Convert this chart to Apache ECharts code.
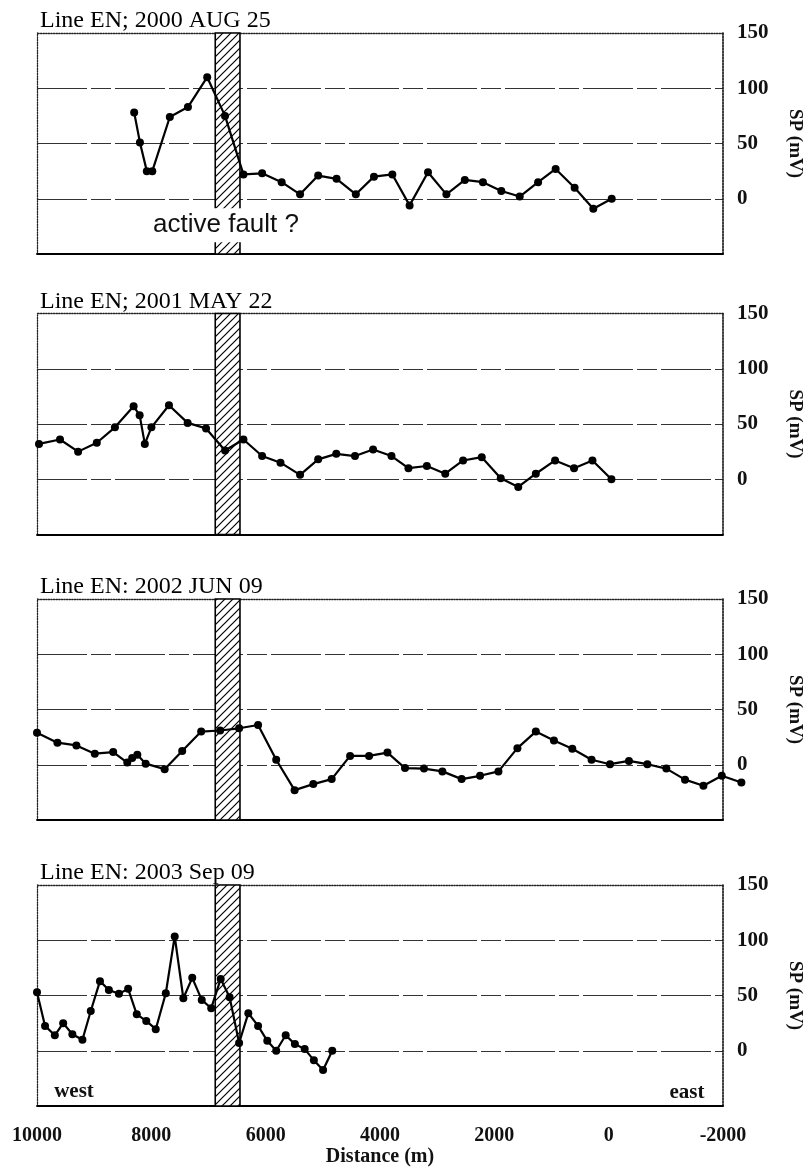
<!DOCTYPE html>
<html>
<head>
<meta charset="utf-8">
<script src="https://cdn.jsdelivr.net/npm/echarts@6/dist/echarts.min.js"></script>
<style>
html,body{margin:0;padding:0;background:#fff;}
#chart{width:812px;height:1169px;}
</style>
</head>
<body>
<div id="chart"></div>
<script>
// ---------- data ----------
const titles = ['Line EN; 2000 AUG 25', 'Line EN; 2001 MAY 22', 'Line EN: 2002 JUN 09', 'Line EN: 2003 Sep 09'];

const dist2000 = [8310, 8210, 8090, 7995, 7690, 7375, 7040, 6730, 6410, 6085, 5745, 5425, 5110, 4790, 4455, 4140, 3820, 3520, 3200, 2880, 2560, 2245, 1925, 1605, 1285, 980, 650, 325, 5];
const sp2000   = [78, 51, 25, 25, 74, 83, 110, 75, 22, 23, 15, 4, 21, 18, 4, 20, 22, -6, 24, 4, 17, 15, 7, 2, 15, 27, 10, -9, 0];

const dist2001 = [9965, 9600, 9285, 8960, 8645, 8320, 8215, 8125, 8010, 7705, 7380, 7060, 6730, 6410, 6085, 5765, 5425, 5110, 4795, 4470, 4155, 3835, 3540, 3220, 2900, 2590, 2265, 1935, 1630, 1325, 990, 660, 340, 10];
const sp2001   = [32, 36, 25, 33, 47, 66, 58, 32, 47, 67, 51, 46, 26, 36, 21, 15, 4, 18, 23, 21, 27, 21, 10, 12, 5, 17, 20, 1, -7, 5, 17, 10, 17, 0];

const dist2002 = [10000, 9645, 9315, 8995, 8675, 8430, 8345, 8255, 8110, 7780, 7475, 7145, 6815, 6485, 6155, 5840, 5520, 5195, 4875, 4555, 4225, 3905, 3600, 3270, 2950, 2615, 2295, 1975, 1645, 1325, 1010, 690, 355, 35, -295, -615, -945, -1270, -1590, -1910, -2250];
const sp2002   = [29, 20, 17.5, 10, 11.5, 2, 6, 9, 1, -4, 12.5, 30, 31, 33, 36, 4.5, -23, -17.5, -13, 8, 8, 11, -3, -3.5, -6, -13, -10, -6, 15, 30, 22, 14.5, 4.5, 0.5, 3.5, 0.5, -3.5, -13.5, -19, -10, -16];

const dist2003 = [10000, 9860, 9690, 9545, 9385, 9210, 9065, 8905, 8750, 8575, 8415, 8265, 8100, 7935, 7760, 7605, 7455, 7300, 7135, 6970, 6805, 6650, 6485, 6325, 6155, 5995, 5840, 5675, 5515, 5345, 5185, 5025, 4865];
const sp2003   = [53, 22.5, 14, 25, 15, 10, 36, 63, 55, 51.5, 56, 33, 27, 19.5, 52, 103.5, 47.5, 66, 46, 38.5, 65, 48.5, 7, 34, 22.5, 9, 0, 14, 6, 1.5, -8.5, -17.5, 0];

const faultZone = [6900, 6470];           // hatched band (m)
const xMin = -2000, xMax = 10000, xStep = 2000;
const xMinData = -2400;                   // data frame reaches a little past the east border
const yMin = -50, yMax = 150, yStep = 50;

const faultNote = {text: 'active fault ?', coord: [6713, -24]};
const westNote  = {text: 'west', coord: [9357, -37]};
const eastNote  = {text: 'east', coord: [-1304, -38]};

// ---------- layout ----------
const gridTops = [33, 313.5, 599, 885];
const gridH = 221;
const gridLeft = 37, gridRight = 85;
const frameW = 812 - gridLeft - gridRight;
const dataRight = 812 - gridLeft - frameW * (xMax - xMinData) / (xMax - xMin);
const serif = '"Liberation Serif", "Times New Roman", serif';
const sans = '"Liberation Sans", Arial, sans-serif';

const hatch = document.createElement('canvas');
hatch.width = 8; hatch.height = 8;
(function(){
  const c = hatch.getContext('2d');
  c.fillStyle = '#fff'; c.fillRect(0,0,8,8);
  c.strokeStyle = '#000'; c.lineWidth = 1.2;
  c.beginPath();
  c.moveTo(0,8); c.lineTo(8,0);
  c.moveTo(-2,2); c.lineTo(2,-2);
  c.moveTo(6,10); c.lineTo(10,6);
  c.stroke();
})();

const datasets = [[dist2000, sp2000], [dist2001, sp2001], [dist2002, sp2002], [dist2003, sp2003]];

const grids = [], xAxes = [], yAxes = [], series = [], titleArr = [];
gridTops.forEach((t, g) => {
  // frame grid (borders, labels, grid lines)
  grids.push({left: gridLeft, right: gridRight, top: t, height: gridH});
  // data grid (same scale, slightly wider to the east)
  grids.push({left: gridLeft, right: dataRight, top: t, height: gridH});
  const gF = 2 * g, gD = 2 * g + 1;
  titleArr.push({text: titles[g], left: 40, top: t - 24, padding: 0,
    textStyle: {fontFamily: serif, fontSize: 24, fontWeight: 'normal', color: '#000'}});
  const last = g === 3;
  xAxes.push({
    type: 'value', gridIndex: gF, position: 'bottom', inverse: true,
    min: xMin, max: xMax, interval: xStep,
    axisLine: {show: true, onZero: false, lineStyle: {color: '#000', width: 1.8}},
    axisTick: {show: false}, splitLine: {show: false},
    axisLabel: {show: last, margin: 20, color: '#111', fontFamily: serif, fontSize: 20, fontWeight: 'bold',
      formatter: v => String(v)},
    name: last ? 'Distance (m)' : '', nameLocation: 'middle', nameGap: 41,
    nameTextStyle: {fontFamily: serif, fontSize: 20, fontWeight: 'bold', color: '#111'}
  });
  xAxes.push({
    type: 'value', gridIndex: gF, position: 'top', inverse: true,
    min: xMin, max: xMax, interval: xStep,
    axisLine: {show: true, onZero: false, lineStyle: {color: '#222', width: 1.3, type: 'dotted'}},
    axisTick: {show: false}, splitLine: {show: false}, axisLabel: {show: false}
  });
  xAxes.push({
    type: 'value', gridIndex: gD, position: 'bottom', inverse: true,
    min: xMinData, max: xMax, show: false
  });
  yAxes.push({
    type: 'value', gridIndex: gF, position: 'right',
    min: yMin, max: yMax, interval: yStep,
    axisLine: {show: true, onZero: false, lineStyle: {color: '#111', width: 1.6, type: [2, 1]}},
    axisTick: {show: false},
    axisLabel: {margin: 14, color: '#111', fontFamily: serif, fontSize: 21, fontWeight: 'bold',
      formatter: v => (v === yMin ? '' : String(v))},
    splitLine: {show: true, showMinLine: false, showMaxLine: false,
      lineStyle: {color: '#333', width: 1.2, type: [50, 4, 20, 4]}},
    name: 'SP (mV)', nameLocation: 'middle', nameRotate: -90, nameGap: 62,
    nameTextStyle: {fontFamily: serif, fontSize: 19, fontWeight: 'bold', color: '#111'}
  });
  yAxes.push({
    type: 'value', gridIndex: gF, position: 'left',
    min: yMin, max: yMax, interval: yStep,
    axisLine: {show: true, onZero: false, lineStyle: {color: '#222', width: 1.3, type: 'dotted'}},
    axisTick: {show: false}, axisLabel: {show: false}, splitLine: {show: false}
  });
  yAxes.push({
    type: 'value', gridIndex: gD, min: yMin, max: yMax, interval: yStep, show: false
  });

  const [xs, ys] = datasets[g];
  const notes = [];
  if (g === 0) notes.push({coord: faultNote.coord, value: faultNote.text,
    label: {fontFamily: sans, fontSize: 26, color: '#111', backgroundColor: '#fff', padding: [2, 3, 6, 3]}});
  if (g === 3) {
    notes.push({coord: westNote.coord, value: westNote.text, label: {fontFamily: serif, fontSize: 21, fontWeight: 'bold', color: '#111'}});
    notes.push({coord: eastNote.coord, value: eastNote.text, label: {fontFamily: serif, fontSize: 21, fontWeight: 'bold', color: '#111'}});
  }
  series.push({
    type: 'line', xAxisIndex: 3 * g + 2, yAxisIndex: 3 * g + 2,
    data: xs.map((x, i) => [x, ys[i]]),
    symbol: 'circle', symbolSize: 8, showSymbol: true,
    lineStyle: {color: '#000', width: 2.2},
    itemStyle: {color: '#000'},
    animation: false, silent: true, z: 5,
    markArea: {
      silent: true,
      itemStyle: {color: {image: hatch, repeat: 'repeat'}, borderColor: '#000', borderWidth: 1.6, opacity: 1},
      label: {show: false},
      data: [[{xAxis: faultZone[0]}, {xAxis: faultZone[1]}]]
    },
    markPoint: notes.length ? {
      silent: true, symbol: 'circle', symbolSize: 0, animation: false,
      label: {show: true, position: 'inside', formatter: p => p.value},
      data: notes
    } : undefined
  });
});

const chart = echarts.init(document.getElementById('chart'), null, {renderer: 'canvas'});
chart.setOption({
  backgroundColor: '#fff',
  animation: false,
  title: titleArr,
  grid: grids,
  xAxis: xAxes,
  yAxis: yAxes,
  series: series
});
</script>
</body>
</html>
